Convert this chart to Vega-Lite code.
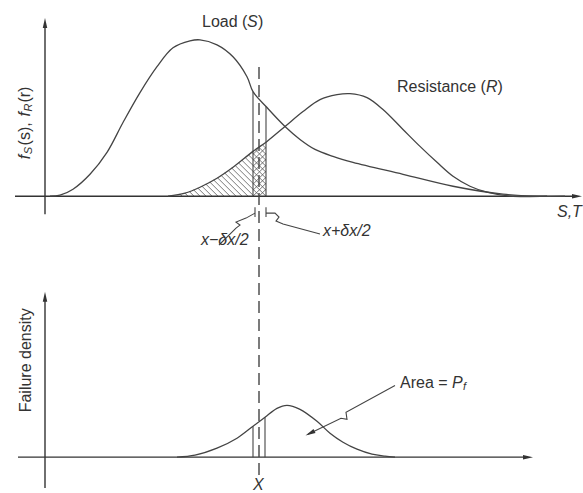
{
  "$schema": "https://vega.github.io/schema/vega-lite/v6.json",
  "width": 583,
  "height": 493,
  "padding": 0,
  "autosize": {"type": "fit", "contains": "padding"},
  "background": "white",
  "config": {"view": {"stroke": null}, "font": "Liberation Sans"},
  "datasets": {
    "curves": [
      {"series": "load", "x": 50, "y": 296}, {"series": "load", "x": 60, "y": 297}, {"series": "load", "x": 73, "y": 303},
      {"series": "load", "x": 90, "y": 318}, {"series": "load", "x": 107, "y": 340}, {"series": "load", "x": 123, "y": 370},
      {"series": "load", "x": 140, "y": 400}, {"series": "load", "x": 157, "y": 426}, {"series": "load", "x": 173, "y": 445},
      {"series": "load", "x": 190, "y": 452}, {"series": "load", "x": 200, "y": 453}, {"series": "load", "x": 217, "y": 448},
      {"series": "load", "x": 233, "y": 436}, {"series": "load", "x": 247, "y": 416}, {"series": "load", "x": 253, "y": 401},
      {"series": "load", "x": 267, "y": 385}, {"series": "load", "x": 285, "y": 366}, {"series": "load", "x": 300, "y": 353},
      {"series": "load", "x": 315, "y": 343}, {"series": "load", "x": 333, "y": 336}, {"series": "load", "x": 353, "y": 330},
      {"series": "load", "x": 403, "y": 318},
      {"series": "load", "x": 453, "y": 306}, {"series": "load", "x": 503, "y": 298}, {"series": "load", "x": 537, "y": 296},
      {"series": "load", "x": 565, "y": 296},
      {"series": "resistance", "x": 168, "y": 296}, {"series": "resistance", "x": 185, "y": 299}, {"series": "resistance", "x": 200, "y": 305},
      {"series": "resistance", "x": 217, "y": 314}, {"series": "resistance", "x": 233, "y": 325}, {"series": "resistance", "x": 253, "y": 341},
      {"series": "resistance", "x": 267, "y": 351}, {"series": "resistance", "x": 285, "y": 366}, {"series": "resistance", "x": 303, "y": 381},
      {"series": "resistance", "x": 320, "y": 393}, {"series": "resistance", "x": 337, "y": 398}, {"series": "resistance", "x": 350, "y": 399},
      {"series": "resistance", "x": 367, "y": 395}, {"series": "resistance", "x": 383, "y": 383}, {"series": "resistance", "x": 403, "y": 363},
      {"series": "resistance", "x": 420, "y": 346}, {"series": "resistance", "x": 437, "y": 330}, {"series": "resistance", "x": 453, "y": 316},
      {"series": "resistance", "x": 470, "y": 306}, {"series": "resistance", "x": 487, "y": 300}, {"series": "resistance", "x": 510, "y": 296},
      {"series": "resistance", "x": 547, "y": 296},
      {"series": "failure", "x": 177, "y": 34}, {"series": "failure", "x": 195, "y": 36}, {"series": "failure", "x": 217, "y": 43},
      {"series": "failure", "x": 237, "y": 53}, {"series": "failure", "x": 253, "y": 65}, {"series": "failure", "x": 265, "y": 74},
      {"series": "failure", "x": 277, "y": 83}, {"series": "failure", "x": 287, "y": 86}, {"series": "failure", "x": 300, "y": 82},
      {"series": "failure", "x": 317, "y": 70}, {"series": "failure", "x": 330, "y": 58}, {"series": "failure", "x": 343, "y": 49},
      {"series": "failure", "x": 357, "y": 42}, {"series": "failure", "x": 372, "y": 37}, {"series": "failure", "x": 385, "y": 35},
      {"series": "failure", "x": 395, "y": 34}
    ],
    "axes": [
      {"x": 45, "y": 278, "x2": 45, "y2": 470},
      {"x": 15, "y": 296, "x2": 577, "y2": 296},
      {"x": 45, "y": 3, "x2": 45, "y2": 195},
      {"x": 18, "y": 34, "x2": 528, "y2": 34}
    ],
    "verticals": [
      {"x": 253, "y": 296, "x2": 253, "y2": 401},
      {"x": 266, "y": 296, "x2": 266, "y2": 386},
      {"x": 253, "y": 34, "x2": 253, "y2": 65},
      {"x": 265, "y": 34, "x2": 265, "y2": 74},
      {"x": 255, "y": 275, "x2": 255, "y2": 285},
      {"x": 266, "y": 275, "x2": 266, "y2": 285}
    ],
    "dashed": [{"x": 259, "y": 16, "x2": 259, "y2": 431}],
    "hatch": [
      {"x": 179.9, "y": 298.1, "x2": 182, "y2": 296},
      {"x": 185, "y": 299, "x2": 188, "y2": 296},
      {"x": 189.3, "y": 300.7, "x2": 194, "y2": 296},
      {"x": 193.6, "y": 302.4, "x2": 200, "y2": 296},
      {"x": 197.9, "y": 304.1, "x2": 206, "y2": 296},
      {"x": 202, "y": 306, "x2": 212, "y2": 296},
      {"x": 205.9, "y": 308.1, "x2": 218, "y2": 296},
      {"x": 209.8, "y": 310.2, "x2": 224, "y2": 296},
      {"x": 213.7, "y": 312.3, "x2": 230, "y2": 296},
      {"x": 217.6, "y": 314.4, "x2": 236, "y2": 296},
      {"x": 221.1, "y": 316.9, "x2": 242, "y2": 296},
      {"x": 224.7, "y": 319.3, "x2": 248, "y2": 296},
      {"x": 228.3, "y": 321.7, "x2": 254, "y2": 296},
      {"x": 231.8, "y": 324.2, "x2": 260, "y2": 296},
      {"x": 235.2, "y": 326.8, "x2": 266, "y2": 296},
      {"x": 238.6, "y": 329.4, "x2": 266, "y2": 302},
      {"x": 241.9, "y": 332.1, "x2": 266, "y2": 308},
      {"x": 245.2, "y": 334.8, "x2": 266, "y2": 314},
      {"x": 248.6, "y": 337.4, "x2": 266, "y2": 320},
      {"x": 251.9, "y": 340.1, "x2": 266, "y2": 326},
      {"x": 255.4, "y": 342.6, "x2": 266, "y2": 332},
      {"x": 259.1, "y": 344.9, "x2": 266, "y2": 338},
      {"x": 262.7, "y": 347.3, "x2": 266, "y2": 344},
      {"x": 253, "y": 296, "x2": 266, "y2": 309},
      {"x": 253, "y": 302, "x2": 266, "y2": 315},
      {"x": 253, "y": 308, "x2": 266, "y2": 321},
      {"x": 253, "y": 314, "x2": 266, "y2": 327},
      {"x": 253, "y": 320, "x2": 266, "y2": 333},
      {"x": 253, "y": 326, "x2": 266, "y2": 339},
      {"x": 253, "y": 332, "x2": 266, "y2": 345},
      {"x": 253, "y": 338, "x2": 258, "y2": 343},
      {"x": 259, "y": 296, "x2": 266, "y2": 303}
    ],
    "leaders": [
      {"id": "minus", "o": 1, "x": 219, "y": 247}, {"id": "minus", "o": 2, "x": 236, "y": 264},
      {"id": "minus", "o": 3, "x": 240, "y": 267}, {"id": "minus", "o": 4, "x": 236, "y": 270},
      {"id": "minus", "o": 5, "x": 246, "y": 274}, {"id": "minus", "o": 6, "x": 255, "y": 279},
      {"id": "plus", "o": 1, "x": 266, "y": 279}, {"id": "plus", "o": 2, "x": 275, "y": 279},
      {"id": "plus", "o": 3, "x": 279, "y": 275}, {"id": "plus", "o": 4, "x": 276, "y": 271},
      {"id": "plus", "o": 5, "x": 283, "y": 268}, {"id": "plus", "o": 6, "x": 320, "y": 258},
      {"id": "area", "o": 1, "x": 395, "y": 106}, {"id": "area", "o": 2, "x": 346, "y": 79},
      {"id": "area", "o": 3, "x": 347, "y": 72}, {"id": "area", "o": 4, "x": 341, "y": 73},
      {"id": "area", "o": 5, "x": 308, "y": 57}
    ],
    "arrowsUp": [{"x": 45, "y": 470}, {"x": 45, "y": 195}],
    "arrowsRight": [{"x": 577, "y": 296}, {"x": 528, "y": 34}],
    "arrowsPointer": [{"x": 310, "y": 58}],
    "textUpright": [
      {"t": "Load (", "x": 202, "y": 471},
      {"t": ")", "x": 258, "y": 471},
      {"t": "Resistance (", "x": 397, "y": 406},
      {"t": ")", "x": 497.5, "y": 406},
      {"t": "Area = ", "x": 400, "y": 108}
    ],
    "textItalic": [
      {"t": "S", "x": 247, "y": 471},
      {"t": "R", "x": 486, "y": 406},
      {"t": "S,T", "x": 557, "y": 280},
      {"t": "x−δx/2", "x": 201, "y": 252},
      {"t": "x+δx/2", "x": 323, "y": 261},
      {"t": "P", "x": 452, "y": 108},
      {"t": "X", "x": 253, "y": 6}
    ],
    "textSub": [{"t": "f", "x": 463, "y": 104}],
    "rotUpright": [
      {"t": "(s),", "x": 25, "y": 347},
      {"t": "(r)", "x": 25, "y": 390},
      {"t": "Failure density", "x": 26, "y": 79}
    ],
    "rotItalic": [
      {"t": "f", "x": 25, "y": 333},
      {"t": "f", "x": 25, "y": 376}
    ],
    "rotSub": [
      {"t": "S", "x": 29, "y": 338},
      {"t": "R", "x": 29, "y": 381}
    ]
  },
  "encoding": {
    "x": {"field": "x", "type": "quantitative", "scale": {"domain": [0, 583], "nice": false, "zero": false}, "axis": null},
    "y": {"field": "y", "type": "quantitative", "scale": {"domain": [0, 493], "nice": false, "zero": false}, "axis": null}
  },
  "layer": [
    {
      "data": {"name": "hatch"},
      "mark": {"type": "rule", "color": "#555", "strokeWidth": 0.8},
      "encoding": {"x2": {"field": "x2"}, "y2": {"field": "y2"}}
    },
    {
      "data": {"name": "axes"},
      "mark": {"type": "rule", "color": "#333", "strokeWidth": 1.4},
      "encoding": {"x2": {"field": "x2"}, "y2": {"field": "y2"}}
    },
    {
      "data": {"name": "verticals"},
      "mark": {"type": "rule", "color": "#444", "strokeWidth": 1.1},
      "encoding": {"x2": {"field": "x2"}, "y2": {"field": "y2"}}
    },
    {
      "data": {"name": "dashed"},
      "mark": {"type": "rule", "color": "#444", "strokeWidth": 1.4, "strokeDash": [12, 6]},
      "encoding": {"x2": {"field": "x2"}, "y2": {"field": "y2"}}
    },
    {
      "data": {"name": "curves"},
      "mark": {"type": "line", "color": "#444", "strokeWidth": 1.3, "interpolate": "catmull-rom"},
      "encoding": {"detail": {"field": "series"}}
    },
    {
      "data": {"name": "leaders"},
      "mark": {"type": "line", "color": "#444", "strokeWidth": 1.1, "interpolate": "linear"},
      "encoding": {"detail": {"field": "id"}, "order": {"field": "o"}}
    },
    {
      "data": {"name": "arrowsUp"},
      "mark": {"type": "point", "shape": "M0,-1L0.45,1L-0.45,1Z", "size": 100, "filled": true, "color": "#333", "opacity": 1}
    },
    {
      "data": {"name": "arrowsRight"},
      "mark": {"type": "point", "shape": "M1,0L-1,0.45L-1,-0.45Z", "size": 100, "filled": true, "color": "#333", "opacity": 1}
    },
    {
      "data": {"name": "arrowsPointer"},
      "mark": {"type": "point", "shape": "M0,-1L0.45,1L-0.45,1Z", "size": 100, "angle": 244, "filled": true, "color": "#333", "opacity": 1}
    },
    {
      "data": {"name": "textUpright"},
      "mark": {"type": "text", "align": "left", "baseline": "middle", "fontSize": 16, "color": "#333"},
      "encoding": {"text": {"field": "t"}}
    },
    {
      "data": {"name": "textItalic"},
      "mark": {"type": "text", "align": "left", "baseline": "middle", "fontSize": 16, "fontStyle": "italic", "color": "#333"},
      "encoding": {"text": {"field": "t"}}
    },
    {
      "data": {"name": "textSub"},
      "mark": {"type": "text", "align": "left", "baseline": "middle", "fontSize": 11, "fontStyle": "italic", "color": "#333"},
      "encoding": {"text": {"field": "t"}}
    },
    {
      "data": {"name": "rotUpright"},
      "mark": {"type": "text", "align": "left", "baseline": "middle", "angle": 270, "fontSize": 16, "color": "#333"},
      "encoding": {"text": {"field": "t"}}
    },
    {
      "data": {"name": "rotItalic"},
      "mark": {"type": "text", "align": "left", "baseline": "middle", "angle": 270, "fontSize": 16, "fontStyle": "italic", "color": "#333"},
      "encoding": {"text": {"field": "t"}}
    },
    {
      "data": {"name": "rotSub"},
      "mark": {"type": "text", "align": "left", "baseline": "middle", "angle": 270, "fontSize": 11, "fontStyle": "italic", "color": "#333"},
      "encoding": {"text": {"field": "t"}}
    }
  ]
}
